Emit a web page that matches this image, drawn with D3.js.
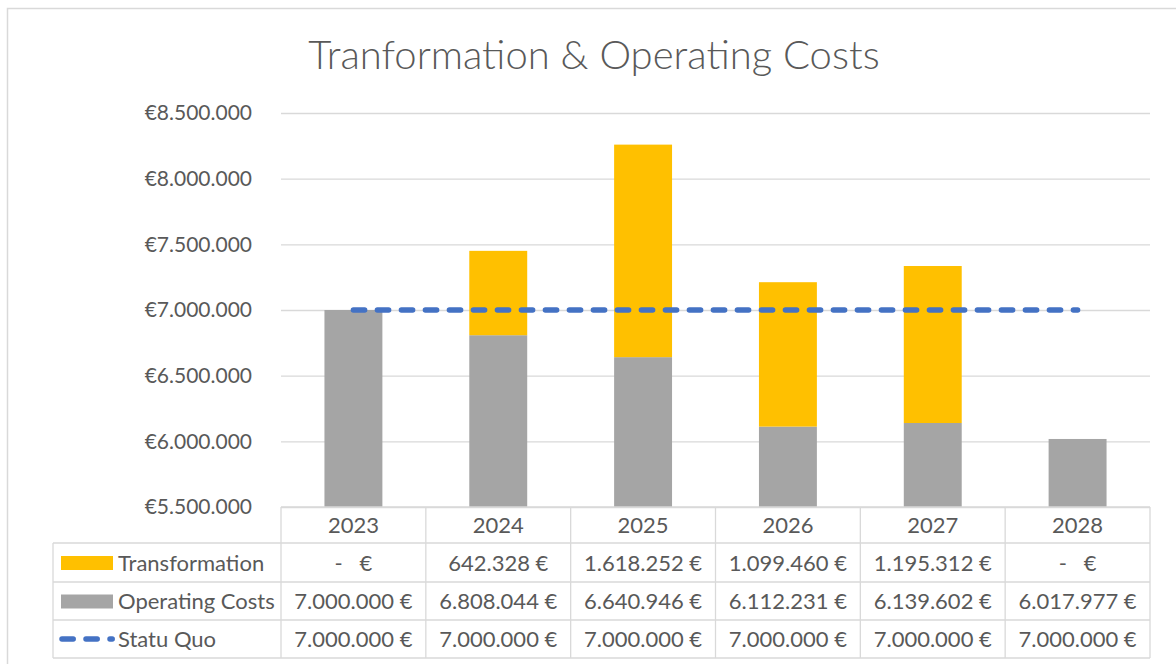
<!DOCTYPE html>
<html>
<head>
<meta charset="utf-8">
<script src="https://cdn.jsdelivr.net/npm/d3@7"></script>
<style>
  body { margin: 0; background: #fff; }
  svg text { font-family: Lato, "Open Sans", sans-serif; fill: #595959; }
</style>
</head>
<body>
<svg id="chart" width="1176" height="664"></svg>
<script>
const years = ['2023', '2024', '2025', '2026', '2027', '2028'];
const transformation = [0, 642328, 1618252, 1099460, 1195312, 0];
const operatingCosts = [7000000, 6808044, 6640946, 6112231, 6139602, 6017977];
const statuQuo = [7000000, 7000000, 7000000, 7000000, 7000000, 7000000];
const yTicks = [5500000, 6000000, 6500000, 7000000, 7500000, 8000000, 8500000];
const seriesNames = ['Transformation', 'Operating Costs', 'Statu Quo'];

const colorT = '#FFC000',
  colorO = '#A5A5A5',
  colorS = '#4472C4',
  gridColor = '#d9d9d9';

const svg = d3.select('#chart'),
  plot = {left: 281, right: 1150, top: 113, bottom: 507},
  tableLeft = 53,
  rowH = [507, 543, 582, 620, 658];

const locale = d3.formatLocale({decimal: ',', thousands: '.', grouping: [3], currency: ['€', '']});
const fmt = locale.format(',.0f');

// chart area border
svg.append('rect')
  .attr('x', 7.5).attr('y', 8.5)
  .attr('width', 1180).attr('height', 700)
  .attr('fill', 'none')
  .attr('stroke', gridColor)
  .attr('stroke-width', 1.5);

svg.append('text')
  .attr('x', 594).attr('y', 69)
  .attr('text-anchor', 'middle')
  .style('font-size', '40px')
  .style('font-weight', 300)
  .text('Tranformation & Operating Costs');

const x = d3.scaleBand()
  .domain(years)
  .range([plot.left, plot.right])
  .paddingInner(0.6)
  .paddingOuter(0.3);

// axis starts at 5.5M, so bars get cut at the bottom
const y = d3.scaleLinear()
  .domain([5500000, 8500000])
  .range([plot.bottom, plot.top])
  .clamp(true);

// gridlines + y labels
const yAxis = svg.append('g')
  .attr('class', 'axis axis--y')
  .attr('transform', 'translate(' + plot.left + ',0)')
  .call(d3.axisLeft(y)
    .tickValues(yTicks)
    .tickSize(-(plot.right - plot.left))
    .tickPadding(29)
    .tickFormat(function(d) { return '€' + fmt(d); }));

yAxis.select('.domain').remove();
yAxis.selectAll('.tick line').attr('stroke', gridColor).attr('stroke-width', 1.3);
yAxis.selectAll('.tick text')
  .attr('fill', '#595959')
  .style('font-size', '21px')
  .style('font-family', 'Lato, sans-serif');

// stacked bars
const rows = years.map(function(yr, i) {
  return {year: yr, operating: operatingCosts[i], transformation: transformation[i]};
});
const stacked = d3.stack().keys(['operating', 'transformation'])(rows);
const barColors = {operating: colorO, transformation: colorT};

svg.append('g').selectAll('g')
  .data(stacked)
  .enter().append('g')
    .attr('fill', function(d) { return barColors[d.key]; })
  .selectAll('rect')
  .data(function(d) { return d; })
  .enter().append('rect')
    .attr('x', function(d) { return x(d.data.year); })
    .attr('width', x.bandwidth())
    .attr('y', function(d) { return y(d[1]); })
    .attr('height', function(d) { return y(d[0]) - y(d[1]); });

// statu quo line
const dash = '11.2 12.8';
const line = d3.line()
  .x(function(d, i) { return x(years[i]) + x.bandwidth() / 2; })
  .y(function(d) { return y(d); });

svg.append('path')
  .datum(statuQuo)
  .attr('d', line)
  .attr('fill', 'none')
  .attr('stroke', colorS)
  .attr('stroke-width', 5.5)
  .attr('stroke-linecap', 'round')
  .attr('stroke-dasharray', dash);

// data table
const table = svg.append('g').attr('class', 'table');
const colW = x.step();

function hLine(x1, x2, yy) {
  table.append('line')
    .attr('x1', x1).attr('x2', x2).attr('y1', yy).attr('y2', yy)
    .attr('stroke', gridColor).attr('stroke-width', 1.3);
}
function vLine(xx, y1, y2) {
  table.append('line')
    .attr('x1', xx).attr('x2', xx).attr('y1', y1).attr('y2', y2)
    .attr('stroke', gridColor).attr('stroke-width', 1.3);
}

hLine(plot.left, plot.right, rowH[0]);
for (let r = 1; r < rowH.length; r++) hLine(tableLeft, plot.right, rowH[r]);
vLine(tableLeft, rowH[1], rowH[4]);
for (let c = 0; c <= years.length; c++) vLine(plot.left + c * colW, rowH[0], rowH[4]);

function cellText(cx, r, txt, anchor) {
  table.append('text')
    .attr('x', cx)
    .attr('y', (rowH[r] + rowH[r + 1]) / 2 + 8)
    .attr('text-anchor', anchor || 'middle')
    .style('font-size', '22px')
    .style('white-space', 'pre')
    .text(txt);
}

function money(v) { return v === 0 ? '-   €' : fmt(v) + ' €'; }

years.forEach(function(yr, i) {
  const cx = x(yr) + x.bandwidth() / 2;
  cellText(cx, 0, yr);
  cellText(cx, 1, money(transformation[i]));
  cellText(cx, 2, money(operatingCosts[i]));
  cellText(cx, 3, money(statuQuo[i]));
});

// legend keys inside table
seriesNames.forEach(function(name, r) {
  cellText(118, r + 1, name, 'start');
});
const keyY = function(r) { return (rowH[r] + rowH[r + 1]) / 2; };
table.append('rect')
  .attr('x', 61).attr('y', keyY(1) - 6.5).attr('width', 52).attr('height', 14)
  .attr('fill', colorT);
table.append('rect')
  .attr('x', 61).attr('y', keyY(2) - 6.5).attr('width', 52).attr('height', 14)
  .attr('fill', colorO);
table.append('line')
  .attr('x1', 62).attr('x2', 112.2)
  .attr('y1', keyY(3)).attr('y2', keyY(3))
  .attr('stroke', colorS)
  .attr('stroke-width', 5.5)
  .attr('stroke-linecap', 'round')
  .attr('stroke-dasharray', dash);
</script>
</body>
</html>
